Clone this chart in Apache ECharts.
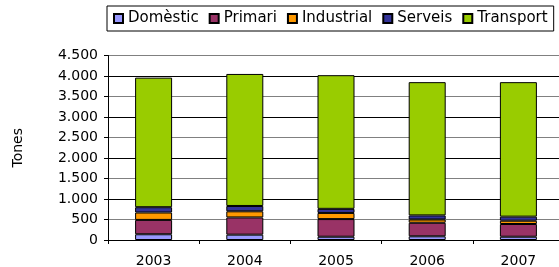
<!DOCTYPE html>
<html>
<head>
<meta charset="utf-8">
<script src="https://cdn.jsdelivr.net/npm/echarts@6/dist/echarts.min.js"></script>
<style>
  html, body { margin: 0; padding: 0; background: #fff; }
  #chart { width: 559px; height: 267px; }
</style>
</head>
<body>
<div id="chart"></div>
<script>
// dades llegides del gràfic
const years = ['2003', '2004', '2005', '2006', '2007']
const domestic = [140, 130, 80, 90, 80]
const primari = [350, 420, 430, 330, 310]
const industrial = [180, 150, 150, 80, 80]
const serveis = [130, 130, 100, 100, 100]
const transport = [3160, 3220, 3260, 3250, 3280]

const names = ['Domèstic', 'Primari', 'Industrial', 'Serveis', 'Transport']
const colors = ['#9999FF', '#993366', '#FF9900', '#333399', '#99CC00']
const values = [domestic, primari, industrial, serveis, transport]

const font = 'DejaVu Sans'

let myChart = echarts.init(document.getElementById('chart'))

const option = {
  animation: false,
  textStyle: { fontFamily: font, color: '#000' },
  legend: {
    left: 107,
    top: 6,
    padding: [5, 6, 5, 6],
    borderColor: '#000',
    borderWidth: 1,
    icon: 'rect',
    itemWidth: 9,
    itemHeight: 9,
    itemGap: 10,
    textStyle: { fontFamily: font, fontSize: 15, color: '#000', padding: [0, 0, 0, 0] }
  },
  grid: { left: 108, top: 55.5, width: 456, bottom: 27, outerBoundsMode: 'none' },
  xAxis: {
    type: 'category',
    data: years,
    axisLine: { lineStyle: { color: '#000' } },
    axisTick: { show: true, length: 4, lineStyle: { color: '#000' } },
    axisLabel: { fontFamily: font, fontSize: 14, color: '#000', margin: 14 }
  },
  yAxis: {
    type: 'value',
    min: 0,
    max: 4500,
    interval: 500,
    name: 'Tones',
    nameLocation: 'middle',
    nameGap: 83,
    nameTextStyle: { fontFamily: font, fontSize: 14, color: '#000' },
    axisLine: { show: true, lineStyle: { color: '#000' } },
    axisTick: { show: true, length: 4, lineStyle: { color: '#000' } },
    axisLabel: {
      fontFamily: font, fontSize: 14, color: '#000', margin: 10,
      formatter: v => v.toLocaleString('de-DE')
    },
    splitLine: { lineStyle: { color: ['#000', '#808080'] } }
  },
  series: names.map((n, i) => ({
    name: n,
    type: 'bar',
    stack: 'total',
    barWidth: 37,
    data: values[i],
    itemStyle: { color: colors[i], borderColor: '#000', borderWidth: 1 }
  }))
}

myChart.setOption(option)
</script>
</body>
</html>
